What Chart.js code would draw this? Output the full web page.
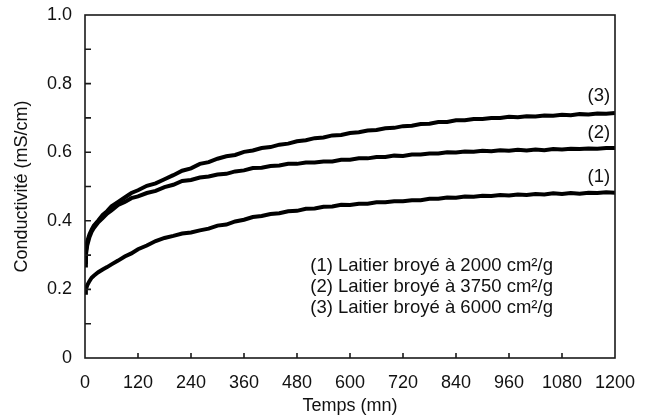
<!DOCTYPE html>
<html>
<head>
<meta charset="utf-8">
<script src="https://cdn.jsdelivr.net/npm/chart.js@4/dist/chart.umd.min.js"></script>
<style>
  body { margin: 0; background: #fff; }
  #wrap { width: 657px; height: 419px; }
</style>
</head>
<body>
<div id="wrap"><canvas id="chart" width="657" height="419"></canvas></div>
<script>
// time in minutes
const time = [0, 2, 5, 10, 15, 20, 30, 40, 50, 60, 75, 90, 105,
  120, 140, 160, 180, 200, 220, 240, 260, 280, 300, 320, 340, 360, 380, 400, 420, 440, 460,
  480, 500, 520, 540, 560, 580, 600, 620, 640, 660, 680, 700, 720, 740, 760, 780, 800, 820,
  840, 860, 880, 900, 920, 940, 960, 980, 1000, 1020, 1040, 1060, 1080, 1100, 1120, 1140,
  1160, 1180, 1200];

// conductivity (mS/cm) for each grinding fineness
const laitier2000 = [0.19, 0.2, 0.212, 0.224, 0.234, 0.24, 0.25, 0.258, 0.265, 0.273, 0.284, 0.296, 0.305,
  0.317, 0.328, 0.341, 0.35, 0.356, 0.363, 0.366, 0.372, 0.377, 0.386, 0.389, 0.398, 0.403, 0.411, 0.414, 0.42, 0.422, 0.428,
  0.429, 0.435, 0.436, 0.441, 0.442, 0.447, 0.446, 0.45, 0.45, 0.454, 0.454, 0.457, 0.457, 0.46, 0.46, 0.464, 0.464, 0.468,
  0.467, 0.471, 0.47, 0.473, 0.472, 0.475, 0.474, 0.477, 0.475, 0.478, 0.477, 0.48, 0.478, 0.481, 0.479, 0.482,
  0.481, 0.483, 0.482];

const laitier3750 = [0.27, 0.3, 0.328, 0.352, 0.368, 0.379, 0.396, 0.408, 0.421, 0.43, 0.446, 0.455, 0.466,
  0.471, 0.481, 0.487, 0.498, 0.505, 0.516, 0.519, 0.526, 0.529, 0.535, 0.537, 0.544, 0.547, 0.554, 0.555, 0.56, 0.561, 0.566,
  0.566, 0.57, 0.57, 0.573, 0.573, 0.578, 0.578, 0.582, 0.582, 0.586, 0.586, 0.59, 0.589, 0.593, 0.593, 0.596, 0.596, 0.6,
  0.599, 0.602, 0.601, 0.604, 0.603, 0.606, 0.604, 0.607, 0.605, 0.608, 0.606, 0.609, 0.608, 0.61, 0.609, 0.611,
  0.61, 0.612, 0.612];

const laitier6000 = [0.28, 0.31, 0.34, 0.36, 0.374, 0.386, 0.401, 0.417, 0.428, 0.442, 0.455, 0.468, 0.481,
  0.489, 0.502, 0.509, 0.521, 0.533, 0.546, 0.553, 0.566, 0.571, 0.581, 0.588, 0.592, 0.601, 0.605, 0.612, 0.615, 0.622, 0.625,
  0.632, 0.635, 0.641, 0.643, 0.649, 0.65, 0.656, 0.658, 0.663, 0.665, 0.67, 0.671, 0.676, 0.677, 0.682, 0.683, 0.688, 0.688,
  0.693, 0.693, 0.697, 0.697, 0.7, 0.7, 0.703, 0.702, 0.705, 0.704, 0.707, 0.706, 0.709, 0.708, 0.711, 0.71,
  0.713, 0.712, 0.714];

const curveTags = ["(1)", "(2)", "(3)"];
const legendLines = [
  "(1) Laitier broyé à 2000 cm²/g",
  "(2) Laitier broyé à 3750 cm²/g",
  "(3) Laitier broyé à 6000 cm²/g"
];

const FONT = "'Liberation Sans', Arial, sans-serif";

const toXY = (ys) => ys.map((y, i) => ({ x: time[i], y: y }));

// frame, inward ticks and text labels
const framePlugin = {
  id: "frame",
  afterDatasetsDraw(chart) {
    const { ctx, chartArea: a, scales } = chart;
    ctx.save();
    ctx.strokeStyle = "#1a1a1a";
    ctx.lineWidth = 1.6;
    ctx.strokeRect(a.left, a.top, a.right - a.left, a.bottom - a.top);

    ctx.beginPath();
    for (let v = 120; v < 1200; v += 120) {
      const px = scales.x.getPixelForValue(v);
      ctx.moveTo(px, a.bottom);
      ctx.lineTo(px, a.bottom - 5);
    }
    for (let k = 1; k < 10; k++) {
      const py = scales.y.getPixelForValue(k / 10);
      ctx.moveTo(a.left, py);
      ctx.lineTo(a.left + 6, py);
    }
    ctx.stroke();

    ctx.fillStyle = "#111";
    ctx.font = "18.5px " + FONT;
    ctx.textAlign = "right";
    ctx.textBaseline = "middle";
    const tagY = [0.529, 0.656, 0.765];
    curveTags.forEach((t, i) => {
      ctx.fillText(t, scales.x.getPixelForValue(1189), scales.y.getPixelForValue(tagY[i]));
    });

    ctx.textAlign = "left";
    const lx = scales.x.getPixelForValue(510);
    legendLines.forEach((t, i) => {
      ctx.fillText(t, lx, scales.y.getPixelForValue(0.269 - i * 0.0615));
    });
    ctx.restore();
  }
};

const line = (data) => ({
  data: toXY(data),
  borderColor: "#000",
  borderWidth: 4,
  pointRadius: 0,
  tension: 0,
  fill: false
});

new Chart(document.getElementById("chart"), {
  type: "line",
  data: {
    datasets: [line(laitier2000), line(laitier3750), line(laitier6000)]
  },
  options: {
    responsive: false,
    animation: false,
    layout: { padding: { left: 0, right: 42, top: 15, bottom: 0 } },
    plugins: { legend: { display: false }, tooltip: { enabled: false } },
    scales: {
      x: {
        type: "linear",
        min: 0,
        max: 1200,
        grid: { display: false, drawTicks: false },
        border: { display: false },
        ticks: {
          stepSize: 120,
          padding: 14,
          color: "#111",
          font: { family: FONT, size: 18 },
          callback(v) { return String(v); }
        },
        title: { display: true, text: "Temps (mn)", color: "#111", font: { family: FONT, size: 18 }, padding: { top: 0, bottom: 2 } },
        afterFit(s) { s.height = 61; s.paddingLeft = 0; s.paddingRight = 0; }
      },
      y: {
        min: 0,
        max: 1,
        grid: { display: false, drawTicks: false },
        border: { display: false },
        ticks: {
          stepSize: 0.1,
          autoSkip: false,
          padding: 13,
          color: "#111",
          font: { family: FONT, size: 18 },
          callback(v) {
            const k = Math.round(v * 10);
            if (k % 2 !== 0) return "";
            return k === 0 ? "0" : (k / 10).toFixed(1);
          }
        },
        title: { display: true, text: "Conductivité (mS/cm)", color: "#111", font: { family: FONT, size: 18 }, padding: { top: 11, bottom: 0 } },
        afterFit(s) { s.width = 85; s.paddingTop = 0; s.paddingBottom = 0; }
      }
    }
  },
  plugins: [framePlugin]
});
</script>
</body>
</html>
